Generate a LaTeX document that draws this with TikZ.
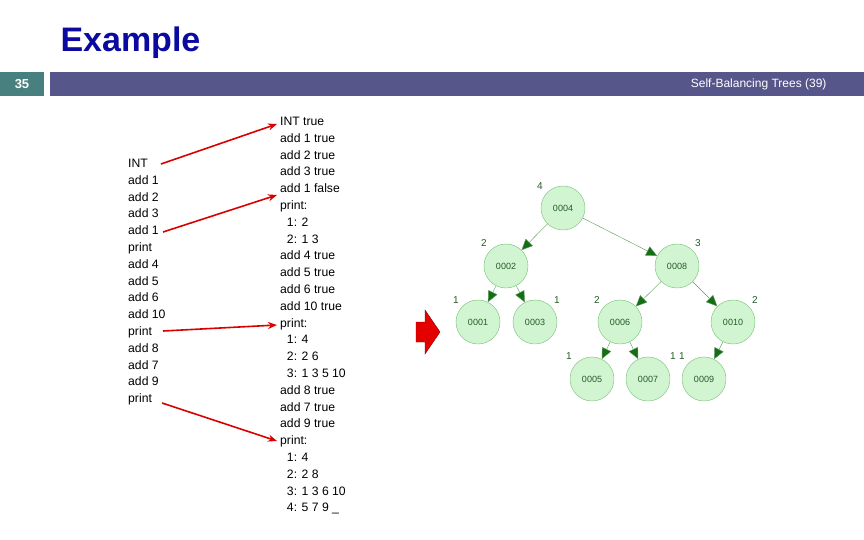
\documentclass[tikz,border=0pt]{standalone}
\usepackage{fontspec}
\setmainfont{Liberation Sans}
\usetikzlibrary{arrows.meta}
\definecolor{titleblue}{RGB}{10,10,160}
\definecolor{barpurple}{RGB}{86,86,138}
\definecolor{numteal}{RGB}{72,128,128}
\definecolor{nodefill}{RGB}{208,245,208}
\definecolor{nodeline}{RGB}{120,190,120}
\definecolor{edgegreen}{RGB}{20,110,20}
\definecolor{labgreen}{RGB}{40,90,40}
\tikzstyle{redarrow} = [line width=1.6pt,red!85!black,-{Stealth[length=9pt,width=7pt]}]
\tikzstyle{edge} = [edgegreen!70,thin,-{Triangle[length=11pt,width=10pt,fill=edgegreen]}]

\begin{document}
\begin{tikzpicture}
        [
            x=1pt,y=-1pt,
            tnode/.style={circle,draw=nodeline,fill=nodefill,minimum size=44pt,inner sep=0pt,font=\fontsize{9}{9}\selectfont,text=labgreen},
            hlab/.style={font=\fontsize{10}{10}\selectfont,text=labgreen,inner sep=0pt},
            listing/.style={align=left,anchor=north west,inner sep=0pt,font=\fontsize{12.2}{16.8}\selectfont},
        ]
    \useasboundingbox (0,0) rectangle (864,540);

    % header
    \node[anchor=west,text=titleblue,font=\fontsize{34}{34}\selectfont\bfseries] (title) at (57,43) {Example};
    \fill[numteal] (0,72) rectangle (44,96);
    \node[text=white,font=\fontsize{13}{13}\selectfont\bfseries] (num) at (22,84) {35};
    \fill[barpurple] (50,72) rectangle (864,96);
    \node[anchor=east,text=white,font=\fontsize{12}{12}\selectfont] (sub) at (830,84) {Self-Balancing Trees (39)};

    % commands and output
    \node[listing] (cmds) at (128,159) {INT\\add 1\\add 2\\add 3\\add 1\\print\\add 4\\add 5\\add 6\\add 10\\print\\add 8\\add 7\\add 9\\print};
    \node[listing] (outp) at (280,117) {INT true\\add 1 true\\add 2 true\\add 3 true\\add 1 false\\print:\\
        \ \ 1: 2\\\ \ 2: 1 3\\add 4 true\\add 5 true\\add 6 true\\add 10 true\\print:\\
        \ \ 1: 4\\\ \ 2: 2 6\\\ \ 3: 1 3 5 10\\add 8 true\\add 7 true\\add 9 true\\print:\\
        \ \ 1: 4\\\ \ 2: 2 8\\\ \ 3: 1 3 6 10\\\ \ 4: 5 7 9 \_};

    \coordinate (c1) at (161,164);  \coordinate (o1) at (277,124);
    \coordinate (c2) at (163,232);  \coordinate (o2) at (277,195);
    \coordinate (c3) at (163,331);  \coordinate (o3) at (277,325);
    \coordinate (c4) at (162,403);  \coordinate (o4) at (277,441);
    \draw[redarrow] (c1) -- (o1);
    \draw[redarrow] (c2) -- (o2);
    \draw[redarrow] (c3) -- (o3);
    \draw[redarrow] (c4) -- (o4);

    % big block arrow
    \filldraw[draw=red!50!black,fill=red!90!black] (416,322) -- (425,322) -- (425,310) -- (440,332)
        -- (425,354) -- (425,342) -- (416,342) -- cycle;

    % tree
    \node[tnode] (n4) at (563,208) {0004};
    \node[tnode] (n2) at (506,266) {0002};
    \node[tnode] (n8) at (677,266) {0008};
    \node[tnode] (n1) at (478,322) {0001};
    \node[tnode] (n3) at (535,322) {0003};
    \node[tnode] (n6) at (620,322) {0006};
    \node[tnode] (n10) at (733,322) {0010};
    \node[tnode] (n5) at (592,379) {0005};
    \node[tnode] (n7) at (648,379) {0007};
    \node[tnode] (n9) at (704,379) {0009};

    \draw[edge] (n4) -- (n2);
    \draw[edge] (n4) -- (n8);
    \draw[edge] (n2) -- (n1);
    \draw[edge] (n2) -- (n3);
    \draw[edge] (n8) -- (n6);
    \draw[edge] (n8) -- (n10);
    \draw[edge] (n6) -- (n5);
    \draw[edge] (n6) -- (n7);
    \draw[edge] (n10) -- (n9);

    \node[hlab] (h4) at (540,186) {4};
    \node[hlab] (h2) at (484,243) {2};
    \node[hlab] (h8) at (698,243) {3};
    \node[hlab] (h1) at (456,300) {1};
    \node[hlab] (h3) at (557,300) {1};
    \node[hlab] (h6) at (597,300) {2};
    \node[hlab] (h10) at (755,300) {2};
    \node[hlab] (h5) at (569,356) {1};
    \node[hlab] (h7) at (673,356) {1};
    \node[hlab] (h9) at (682,356) {1};
\end{tikzpicture}
\end{document}
